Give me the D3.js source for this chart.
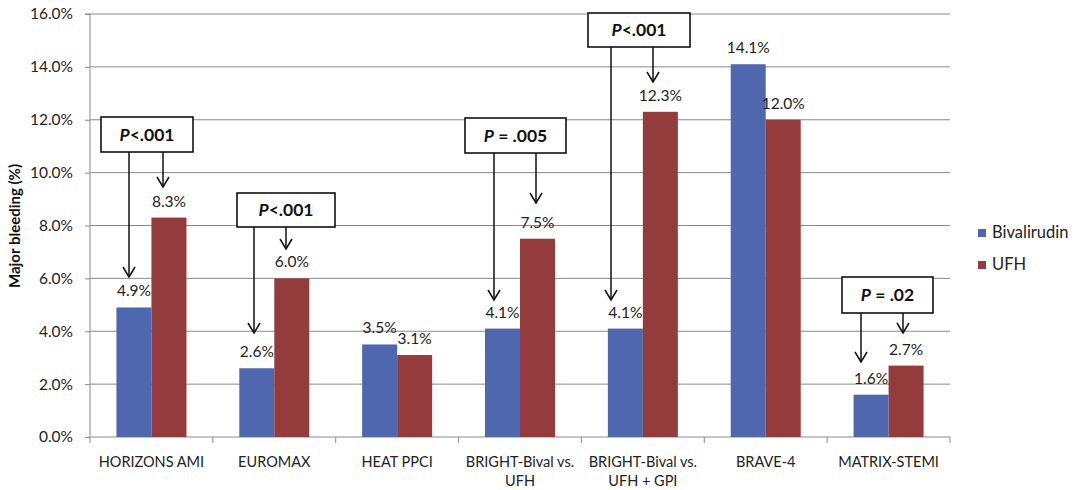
<!DOCTYPE html>
<html><head><meta charset="utf-8">
<script src="https://cdn.jsdelivr.net/npm/d3@7"></script>
<style>
body{margin:0;background:#fff;}
svg{display:block;font-family:Lato,"Open Sans",sans-serif;}
</style></head>
<body><svg id="chart" width="1074" height="490"></svg>
<script>
const categories = ["HORIZONS AMI","EUROMAX","HEAT PPCI","BRIGHT-Bival vs.\nUFH","BRIGHT-Bival vs.\nUFH + GPI","BRAVE-4","MATRIX-STEMI"];
const seriesNames = ["Bivalirudin","UFH"];
const bivalirudin = [4.9, 2.6, 3.5, 4.1, 4.1, 14.1, 1.6];
const ufh = [8.3, 6.0, 3.1, 7.5, 12.3, 12.0, 2.7];
const yTicks = [0,2,4,6,8,10,12,14,16];
const pLabels = [
  {cat:0, pre:"P", post:"<.001"},
  {cat:1, pre:"P", post:"<.001"},
  {cat:3, pre:"P", post:" = .005"},
  {cat:4, pre:"P", post:"<.001"},
  {cat:6, pre:"P", post:" = .02"}
];
// layout of annotation boxes (pixels)
const boxLayout = [
  {x0:101,x1:193,y0:117,y1:152, lx:129, ltip:277, rx:163, rtip:187},
  {x0:237,x1:335,y0:193,y1:227, lx:254, ltip:333, rx:286, rtip:249},
  {x0:465,x1:566,y0:118,y1:153, lx:494, ltip:300, rx:536, rtip:203},
  {x0:588,x1:690,y0:13,y1:47, lx:611, ltip:300, rx:653, rtip:82},
  {x0:842,x1:933,y0:277,y1:313, lx:861, ltip:362, rx:903, rtip:333}
];
const colors = {"Bivalirudin":"#4f67ae","UFH":"#943c3b"};

const svg = d3.select("#chart");
const pLeft=90, pRight=950, pTop=14, pBottom=437;
const x = d3.scaleBand().domain(categories).range([pLeft,pRight]).paddingInner(0).paddingOuter(0);
const x1 = d3.scaleBand().domain(seriesNames).range([0,x.bandwidth()]).paddingInner(0).paddingOuter(0.755);
const y = d3.scaleLinear().domain([0,16]).range([pBottom,pTop]);
const grid = "#8a8a8a";

// gridlines
svg.append("g").selectAll("line").data(yTicks.filter(d=>d>0)).join("line")
  .attr("x1",pLeft).attr("x2",pRight).attr("y1",d=>y(d)).attr("y2",d=>y(d))
  .attr("stroke",grid).attr("stroke-width",1);

// y axis
const yAxis = d3.axisLeft(y).tickValues(yTicks).tickSize(5).tickPadding(12)
  .tickFormat(d=>d3.format(".1%")(d/100));
const yg = svg.append("g").attr("transform",`translate(${pLeft},0)`).call(yAxis);
yg.select(".domain").attr("stroke",grid).attr("d",`M-5,${pTop}H0V${pBottom}`);
yg.selectAll(".tick line").attr("stroke",grid);
yg.selectAll(".tick text").attr("font-size",15.5).attr("fill","#222").attr("font-family","Lato");

// x axis
svg.append("line").attr("x1",pLeft).attr("x2",pRight).attr("y1",pBottom).attr("y2",pBottom).attr("stroke",grid);
const bounds = categories.map(c=>x(c)).concat([pRight]);
svg.append("g").selectAll("line").data(bounds).join("line")
  .attr("x1",d=>d).attr("x2",d=>d).attr("y1",pBottom).attr("y2",pBottom+6).attr("stroke",grid);
const xl = svg.append("g").selectAll("text").data(categories).join("text")
  .attr("x",d=>x(d)+x.bandwidth()/2).attr("y",467).attr("text-anchor","middle")
  .attr("font-size",14.5).attr("fill","#222");
xl.each(function(d){
  const t=d3.select(this);
  d.split("\n").forEach((s,i)=>t.append("tspan").attr("x",x(d)+x.bandwidth()/2).attr("dy",i?19:0).text(s));
});

// bars
const rows = categories.map((c,i)=>({cat:c, vals:[{s:"Bivalirudin",v:bivalirudin[i]},{s:"UFH",v:ufh[i]}]}));
const gb = svg.append("g").selectAll("g").data(rows).join("g").attr("transform",d=>`translate(${x(d.cat)},0)`);
gb.selectAll("rect").data(d=>d.vals).join("rect")
  .attr("x",d=>x1(d.s)).attr("width",x1.bandwidth())
  .attr("y",d=>y(d.v)).attr("height",d=>pBottom-y(d.v)).attr("fill",d=>colors[d.s]);
gb.selectAll("text").data(d=>d.vals).join("text")
  .attr("x",d=>x1(d.s)+x1.bandwidth()/2).attr("y",d=>y(d.v)-11)
  .attr("text-anchor","middle").attr("font-size",15.5).attr("fill","#222")
  .text(d=>d3.format(".1f")(d.v)+"%");

// y title
svg.append("text").attr("transform","translate(20,226) rotate(-90)").attr("text-anchor","middle")
  .attr("font-size",15).attr("font-weight","bold").attr("fill","#111").text("Major bleeding (%)");

// legend
const lg = svg.append("g").selectAll("g").data(seriesNames).join("g")
  .attr("transform",(d,i)=>`translate(978,${229+i*32})`);
lg.append("rect").attr("width",8).attr("height",8).attr("fill",d=>colors[d]);
lg.append("text").attr("x",14).attr("y",9).attr("font-size",16.5).attr("fill","#222").text(d=>d);

// annotations
const ga = svg.append("g");
pLabels.forEach((p,i)=>{
  const b = boxLayout[i];
  ga.append("rect").attr("x",b.x0).attr("y",b.y0).attr("width",b.x1-b.x0).attr("height",b.y1-b.y0)
    .attr("fill","#fff").attr("stroke","#111").attr("stroke-width",1.6);
  const t = ga.append("text").attr("x",(b.x0+b.x1)/2).attr("y",(b.y0+b.y1)/2+6)
    .attr("text-anchor","middle").attr("font-size",17.5).attr("font-weight","bold").attr("fill","#111");
  t.append("tspan").attr("font-style","italic").text(p.pre);
  t.append("tspan").text(p.post);
  [[b.lx,b.ltip],[b.rx,b.rtip]].forEach(([ax,tip])=>{
    ga.append("line").attr("x1",ax).attr("x2",ax).attr("y1",b.y1).attr("y2",tip)
      .attr("stroke","#111").attr("stroke-width",1.5);
    ga.append("path").attr("d",`M${ax-6},${tip-10}L${ax},${tip}L${ax+6},${tip-10}`)
      .attr("fill","none").attr("stroke","#111").attr("stroke-width",1.5);
  });
});
</script></body></html>
